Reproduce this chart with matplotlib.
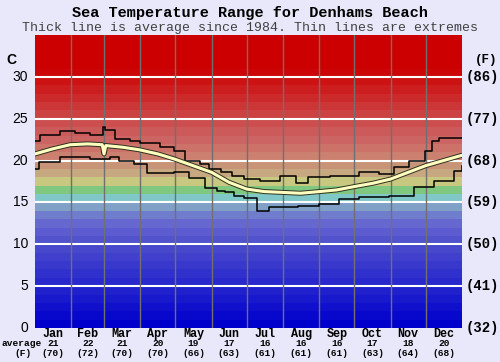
import matplotlib.pyplot as plt
import matplotlib.patheffects as pe

months = ['Jan', 'Feb', 'Mar', 'Apr', 'May', 'Jun',
          'Jul', 'Aug', 'Sep', 'Oct', 'Nov', 'Dec']
month_days = [31, 28, 31, 30, 31, 30, 31, 31, 30, 31, 30, 31]
avg_c = [21, 22, 21, 20, 19, 17, 16, 16, 16, 17, 18, 20]
avg_f = [70, 72, 70, 70, 66, 63, 61, 61, 61, 63, 64, 68]

c_ticks = [0, 5, 10, 15, 20, 25, 30]
f_ticks = [32, 41, 50, 59, 68, 77, 86]

# average (day of year, temp C)
avg_day = [0, 15, 30, 45, 57.5, 59, 60.5, 75, 89, 105, 119, 135, 151, 166,
           181, 196, 212, 227, 243, 258, 273, 289, 304, 319, 334, 349, 364]
avg_temp = [20.8, 21.4, 21.9, 22.0, 21.9, 20.8, 21.8, 21.6, 21.3, 20.8, 20.2,
            19.4, 18.6, 17.4, 16.6, 16.3, 16.2, 16.1, 16.3, 16.5, 16.9, 17.3,
            17.8, 18.6, 19.4, 20.0, 20.6]

# upper extreme
hi_day = [0, 4, 21, 34, 47, 58, 60, 68, 81, 90, 107, 119, 128, 141, 149, 159,
          168, 179, 192, 209, 223, 233, 252, 277, 294, 307, 320, 333, 339,
          345, 365]
hi_temp = [22.4, 23.1, 23.6, 23.3, 23.1, 24.0, 23.7, 22.6, 22.3, 22.1, 21.6,
           21.2, 20.0, 19.6, 19.0, 18.6, 18.2, 17.8, 17.6, 18.2, 17.3, 18.0,
           18.2, 18.6, 18.4, 19.2, 20.0, 21.2, 22.3, 22.7, 22.7]

# lower extreme
lo_day = [0, 3, 21, 47, 64, 72, 85, 96, 119, 132, 145, 156, 162, 170, 179,
          190, 200, 225, 243, 260, 277, 303, 324, 341, 358, 365]
lo_temp = [19.0, 19.8, 20.4, 20.2, 20.4, 19.9, 19.6, 18.5, 18.7, 17.9, 16.7,
           16.4, 16.2, 15.8, 15.5, 14.0, 14.4, 14.6, 14.8, 15.4, 15.6, 15.8,
           16.8, 17.6, 18.8, 19.3]

# colour of each 1 degree band, 0..35
band_rgb = [
    (0, 0, 204), (8, 8, 204), (16, 16, 204), (24, 24, 204), (32, 32, 204),
    (40, 40, 204), (48, 48, 204), (56, 56, 204), (64, 64, 204), (72, 72, 204),
    (82, 82, 204), (92, 92, 208), (102, 104, 208), (112, 124, 204),
    (128, 160, 200), (128, 200, 200), (128, 200, 128), (200, 200, 128),
    (200, 168, 128), (200, 148, 120), (204, 128, 112), (204, 114, 104),
    (204, 100, 100), (204, 90, 90), (204, 78, 78), (204, 66, 66),
    (204, 54, 54), (204, 42, 42), (204, 30, 30), (204, 18, 18),
    (204, 6, 6), (204, 0, 0), (204, 0, 0), (204, 0, 0), (204, 0, 0)]

bg = '#E8E8FA'
fig = plt.figure(figsize=(5, 3.62), dpi=100, facecolor=bg)
ax = fig.add_axes([0.07, 0.094, 0.854, 0.809])
ax.set_xlim(0, 365)
ax.set_ylim(0, 35)

for i, rgb in enumerate(band_rgb):
    ax.axhspan(i, i + 1, color=[v / 255 for v in rgb], lw=0, zorder=0)

for t in c_ticks[1:]:
    ax.axhline(t, color='white', lw=1.5, zorder=1)

starts = [sum(month_days[:i]) for i in range(12)]
for s in starts[1:]:
    ax.axvline(s, color='#707070', lw=1, zorder=1)

ax.plot(hi_day, hi_temp, drawstyle='steps-post', color='black', lw=1.1,
        zorder=3)
ax.plot(lo_day, lo_temp, drawstyle='steps-post', color='black', lw=1.1,
        zorder=3)
ax.plot(avg_day, avg_temp, color='#FFFFC0', lw=2.2, zorder=4,
        path_effects=[pe.Stroke(linewidth=3.6, foreground='#303020'),
                      pe.Normal()])

ax.set_xticks([])
ax.set_yticks([])
for sp in ax.spines.values():
    sp.set_visible(False)

mono = 'Liberation Mono'
for t in c_ticks:
    ax.text(-6, t, str(t), ha='right', va='center', fontsize=10,
            family='Liberation Sans', clip_on=False)
ax.text(-20, 32, 'C', ha='center', va='center', fontsize=10,
        family='Liberation Sans', fontweight='bold', clip_on=False)
for t, f in zip(c_ticks, f_ticks):
    ax.text(368, t, f'({f})', ha='left', va='center', fontsize=10,
            family=mono, fontweight='bold', clip_on=False)
ax.text(376, 32, '(F)', ha='left', va='center', fontsize=9,
        family=mono, fontweight='bold', clip_on=False)

for s, d, m, c, f in zip(starts, month_days, months, avg_c, avg_f):
    x = s + d / 2
    ax.text(x, -0.75, m, ha='center', va='center', fontsize=8.5,
            family=mono, fontweight='bold', clip_on=False)
    ax.text(x, -1.85, str(c), ha='center', va='center', fontsize=6.8,
            family=mono, fontweight='bold', clip_on=False)
    ax.text(x, -3.0, f'({f})', ha='center', va='center', fontsize=6.8,
            family=mono, fontweight='bold', clip_on=False)
fig.text(0.004, 1 - 343 / 362, 'average', ha='left', va='center',
         fontsize=6.8, family=mono, fontweight='bold')
fig.text(0.028, 1 - 353 / 362, '(F)', ha='left', va='center',
         fontsize=6.8, family=mono, fontweight='bold')

fig.text(0.5, 1 - 13 / 362, 'Sea Temperature Range for Denhams Beach',
         ha='center', va='center', fontsize=11, family=mono,
         fontweight='bold')
fig.text(0.5, 1 - 28 / 362,
         'Thick line is average since 1984. Thin lines are extremes',
         ha='center', va='center', fontsize=9.5, family=mono,
         color='#404040')

fig.savefig('out.png', dpi=100, facecolor=bg)
